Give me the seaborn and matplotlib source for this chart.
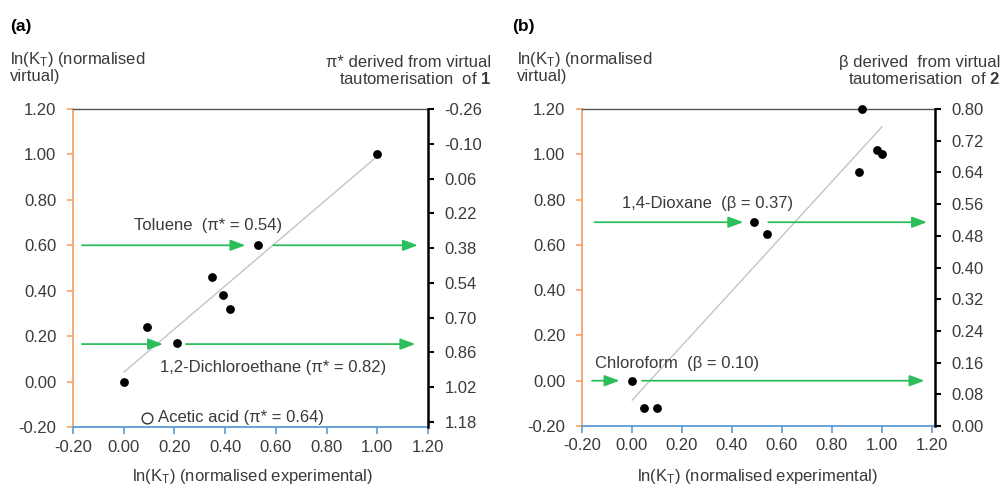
import numpy as np
import pandas as pd
import matplotlib
matplotlib.use("Agg")
import matplotlib.pyplot as plt
import seaborn as sns

# panel (a): pi* data
a_x = [0.00, 0.09, 0.21, 0.35, 0.39, 0.42, 0.53, 1.00]
a_y = [0.00, 0.24, 0.17, 0.46, 0.38, 0.32, 0.60, 1.00]
a_open_x = [0.09]
a_open_y = [-0.16]
a_right_ticks = [-0.26, -0.10, 0.06, 0.22, 0.38, 0.54, 0.70, 0.86, 1.02, 1.18]

# panel (b): beta data
b_x = [0.00, 0.05, 0.10, 0.49, 0.54, 0.91, 0.92, 0.98, 1.00]
b_y = [0.00, -0.12, -0.12, 0.70, 0.65, 0.92, 1.20, 1.02, 1.00]
b_right_ticks = [0.00, 0.08, 0.16, 0.24, 0.32, 0.40, 0.48, 0.56, 0.64, 0.72, 0.80]

left_ticks = [-0.20, 0.00, 0.20, 0.40, 0.60, 0.80, 1.00, 1.20]

# arrows: (y, x_start, x_end)
a_arrows = [(0.60, -0.165, 0.48), (0.60, 0.59, 1.16),
            (0.165, -0.165, 0.155), (0.165, 0.245, 1.15)]
b_arrows = [(0.70, -0.15, 0.445), (0.70, 0.545, 1.18),
            (0.00, -0.16, -0.05), (0.00, 0.04, 1.17)]

# labels: (text, x, y)
a_labels = [("Toluene  (\u03c0* = 0.54)", 0.04, 0.685),
            ("1,2-Dichloroethane (\u03c0* = 0.82)", 0.145, 0.06),
            ("Acetic acid (\u03c0* = 0.64)", 0.135, -0.157)]
b_labels = [("1,4-Dioxane  (\u03b2 = 0.37)", -0.04, 0.784),
            ("Chloroform  (\u03b2 = 0.10)", -0.148, 0.076)]

sns.set_theme(style="ticks")
plt.rcParams["font.family"] = ["Liberation Sans", "DejaVu Sans"]
plt.rcParams["mathtext.fontset"] = "custom"
plt.rcParams["mathtext.rm"] = "Liberation Sans"
plt.rcParams["mathtext.bf"] = "Liberation Sans:bold"
plt.rcParams["mathtext.it"] = "Liberation Sans:italic"

TXT = "#3a3a3a"
ORANGE = "#F4A46A"
BLUE = "#5B9BD5"
GREEN = "#2DBE5C"
FS = 12

fig = plt.figure(figsize=(10.03, 4.88), dpi=100)
W, H = 1003, 488


def px(x, y):
    return x / W, 1 - y / H


def style_panel(ax, twin, xlim, right_lim, right_ticks):
    ax.set_xlim(*xlim)
    ax.set_ylim(-0.2, 1.2)
    ax.set_xticks(left_ticks)
    ax.set_yticks(left_ticks)
    ax.set_xticklabels([f"{t:.2f}" for t in left_ticks])
    ax.set_yticklabels([f"{t:.2f}" for t in left_ticks])
    ax.set_xlabel("")
    ax.set_ylabel("")
    for s in ["top", "right", "left", "bottom"]:
        ax.spines[s].set_visible(True)
    ax.spines["right"].set_visible(False)
    ax.spines["top"].set_color("#555555")
    ax.spines["top"].set_linewidth(1.0)
    ax.spines["left"].set_color(ORANGE)
    ax.spines["left"].set_linewidth(1.3)
    ax.spines["bottom"].set_color(BLUE)
    ax.spines["bottom"].set_linewidth(1.3)
    ax.tick_params(axis="y", colors=ORANGE, labelcolor=TXT, labelsize=FS,
                   length=4, width=1.2, pad=8, direction="out")
    ax.tick_params(axis="x", colors=BLUE, labelcolor=TXT, labelsize=FS,
                   length=5, width=1.2, pad=4, direction="out")

    twin.set_ylim(*right_lim)
    twin.set_yticks(right_ticks)
    twin.set_yticklabels([f"{t:.2f}" for t in right_ticks])
    for s in ["top", "left", "bottom"]:
        twin.spines[s].set_visible(False)
    twin.spines["right"].set_visible(True)
    twin.spines["right"].set_color("black")
    twin.spines["right"].set_linewidth(1.8)
    twin.tick_params(axis="y", colors="black", labelcolor=TXT, labelsize=FS,
                     length=4, width=1.5, pad=8, direction="out")
    twin.set_ylabel("")


def draw_arrows(ax, arrows):
    for y, x0, x1 in arrows:
        ax.annotate("", xy=(x1, y), xytext=(x0, y),
                    arrowprops=dict(arrowstyle="-|>,head_length=0.75,head_width=0.28",
                                    color=GREEN, lw=1.3, shrinkA=0, shrinkB=0),
                    annotation_clip=False)


# ---- panel (a)
ax_a = fig.add_axes([73 / W, 1 - 427 / H, 355 / W, 318 / H])
df_a = pd.DataFrame({"x": a_x, "y": a_y})
sns.regplot(data=df_a, x="x", y="y", scatter=False, ci=None, ax=ax_a,
            line_kws=dict(color="#C4C4C4", lw=1.0))
sns.scatterplot(data=df_a, x="x", y="y", ax=ax_a, color="black", s=40,
                edgecolor="black", linewidth=0, zorder=5, clip_on=False)
ax_a.scatter(a_open_x, a_open_y, s=60, facecolor="white", edgecolor="#333333",
             linewidth=1.0, zorder=5)
draw_arrows(ax_a, a_arrows)
for t, x, y in a_labels:
    ax_a.text(x, y, t, fontsize=FS, color=TXT, ha="left", va="center")
tw_a = ax_a.twinx()
style_panel(ax_a, tw_a, (-0.2, 1.2), (1.203, -0.26), a_right_ticks)

# ---- panel (b)
ax_b = fig.add_axes([582 / W, 1 - 426 / H, 353 / W, 317 / H])
df_b = pd.DataFrame({"x": b_x, "y": b_y})
sns.regplot(data=df_b, x="x", y="y", scatter=False, ci=None, ax=ax_b,
            line_kws=dict(color="#C4C4C4", lw=1.0))
sns.scatterplot(data=df_b, x="x", y="y", ax=ax_b, color="black", s=40,
                edgecolor="black", linewidth=0, zorder=5, clip_on=False)
draw_arrows(ax_b, b_arrows)
for t, x, y in b_labels:
    ax_b.text(x, y, t, fontsize=FS, color=TXT, ha="left", va="center")
tw_b = ax_b.twinx()
style_panel(ax_b, tw_b, (-0.2, 1.212), (0.0, 0.8), b_right_ticks)

# ---- figure texts
fig.text(*px(10, 27), "(a)", fontsize=12.5, fontweight="bold", color="black",
         ha="left", va="center")
fig.text(*px(512, 27), "(b)", fontsize=12.5, fontweight="bold", color="black",
         ha="left", va="center")

ylab = "ln(K$_\\mathregular{T}$) (normalised\nvirtual)"
fig.text(*px(10, 67), ylab, fontsize=FS, color=TXT, ha="left", va="center",
         linespacing=1.0)
fig.text(*px(517, 67), ylab, fontsize=FS, color=TXT, ha="left", va="center",
         linespacing=1.0)

fig.text(*px(491, 71), "\u03c0* derived from virtual\ntautomerisation  of $\\mathbf{1}$",
         fontsize=FS, color=TXT, ha="right", va="center", multialignment="right",
         linespacing=1.05)
fig.text(*px(1000, 71), "\u03b2 derived  from virtual\ntautomerisation  of $\\mathbf{2}$",
         fontsize=FS, color=TXT, ha="right", va="center", multialignment="right",
         linespacing=1.05)

xlab = "ln(K$_\\mathregular{T}$) (normalised experimental)"
fig.text(*px(252, 477), xlab, fontsize=FS, color=TXT, ha="center", va="center")
fig.text(*px(757, 477), xlab, fontsize=FS, color=TXT, ha="center", va="center")

fig.savefig("out.png", dpi=100)
